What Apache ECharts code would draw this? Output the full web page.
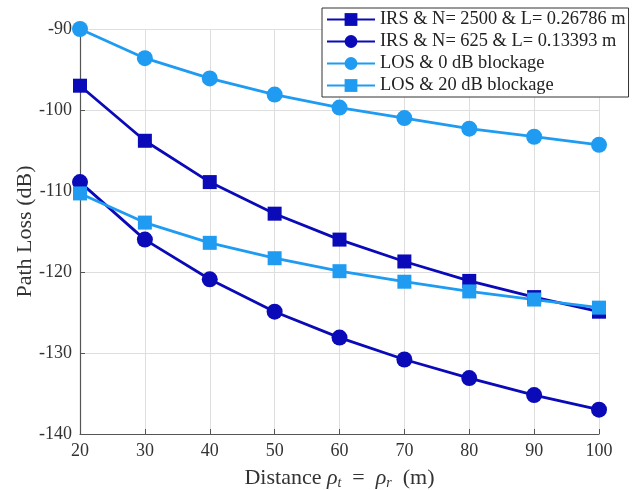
<!DOCTYPE html>
<html>
<head>
<meta charset="utf-8">
<script src="https://cdn.jsdelivr.net/npm/echarts@6/dist/echarts.min.js"></script>
<style>
  html, body { margin: 0; padding: 0; background: #fff; }
  #chart { width: 634px; height: 490px; }
</style>
</head>
<body>
<div id="chart"></div>
<script>
// Distance between transmitter/receiver and the reflecting surface (m)
const distances = [20, 30, 40, 50, 60, 70, 80, 90, 100];

// Path loss (dB) for each configuration
const irs2500 = [-97, -103.8, -108.9, -112.8, -116.0, -118.7, -121.1, -123.1, -124.9];
const irs625  = [-108.9, -116.0, -120.9, -124.9, -128.1, -130.8, -133.1, -135.2, -137.0];
const los0    = [-90.0, -93.6, -96.1, -98.1, -99.7, -101.0, -102.3, -103.3, -104.3];
const los20   = [-110.3, -113.9, -116.4, -118.3, -119.9, -121.2, -122.4, -123.4, -124.4];

const seriesNames = [
  'IRS & N= 2500 & L= 0.26786 m',
  'IRS & N= 625 & L= 0.13393 m',
  'LOS & 0 dB blockage',
  'LOS & 20 dB blockage'
];

const yTicks = { min: -140, max: -90, step: 10 };
const xTicks = { min: 20, max: 100, step: 10 };

const darkBlue = '#0a0ab8';
const lightBlue = '#1f9cf2';
const font = '"Liberation Serif", "DejaVu Serif", serif';
const textColor = '#333333';

function pair(ys) { return distances.map((d, i) => [d, ys[i]]); }

function lineSeries(name, ys, color, symbol, size) {
  return {
    name: name,
    type: 'line',
    data: pair(ys),
    symbol: symbol,
    symbolSize: size,
    showAllSymbol: true,
    lineStyle: { color: color, width: 2.8 },
    itemStyle: { color: color },
    emphasis: { disabled: true },
    animation: false
  };
}

const chart = echarts.init(document.getElementById('chart'), null, { renderer: 'canvas' });

chart.setOption({
  backgroundColor: '#ffffff',
  animation: false,
  grid: { left: 80, right: 35, top: 29, bottom: 56, containLabel: false, outerBoundsMode: 'none' },
  legend: {
    orient: 'vertical',
    left: 322,
    top: 8,
    padding: [2, 3, 2, 4],
    itemGap: 3,
    itemWidth: 48,
    itemHeight: 16,
    backgroundColor: '#ffffff',
    borderColor: '#333333',
    borderWidth: 1,
    textStyle: { fontFamily: font, fontSize: 18.4, color: '#222', lineHeight: 19 },
    data: seriesNames
  },
  xAxis: {
    type: 'value',
    min: xTicks.min,
    max: xTicks.max,
    interval: xTicks.step,
    name: 'Distance {i|ρ}{s|t}  =  {i|ρ}{s|r}  (m)',
    nameLocation: 'middle',
    nameGap: 32,
    nameMoveOverlap: false,
    nameTextStyle: {
      fontFamily: font, fontSize: 22, color: textColor,
      rich: {
        i: { fontFamily: font, fontSize: 22, fontStyle: 'italic', color: textColor },
        s: { fontFamily: font, fontSize: 14, fontStyle: 'italic', color: textColor, verticalAlign: 'bottom', padding: [10, 0, 0, 0] }
      }
    },
    axisLine: { show: true, lineStyle: { color: '#555', width: 1.2 } },
    axisTick: { show: true, inside: true, length: 5, lineStyle: { color: '#555' } },
    axisLabel: { fontFamily: font, fontSize: 18, color: textColor, margin: 8 },
    splitLine: { show: true, lineStyle: { color: '#dedede', width: 1 } }
  },
  yAxis: {
    type: 'value',
    min: yTicks.min,
    max: yTicks.max,
    interval: yTicks.step,
    name: 'Path Loss (dB)',
    nameLocation: 'middle',
    nameGap: 44,
    nameMoveOverlap: false,
    nameTextStyle: { fontFamily: font, fontSize: 22, color: textColor },
    axisLine: { show: true, lineStyle: { color: '#555', width: 1.2 } },
    axisTick: { show: true, inside: true, length: 5, lineStyle: { color: '#555' } },
    axisLabel: { fontFamily: font, fontSize: 18, color: textColor, margin: 8 },
    splitLine: { show: true, lineStyle: { color: '#dedede', width: 1 } }
  },
  series: [
    lineSeries(seriesNames[0], irs2500, darkBlue, 'rect', 14),
    lineSeries(seriesNames[1], irs625, darkBlue, 'circle', 16),
    lineSeries(seriesNames[2], los0, lightBlue, 'circle', 16),
    lineSeries(seriesNames[3], los20, lightBlue, 'rect', 14)
  ]
});
</script>
</body>
</html>
